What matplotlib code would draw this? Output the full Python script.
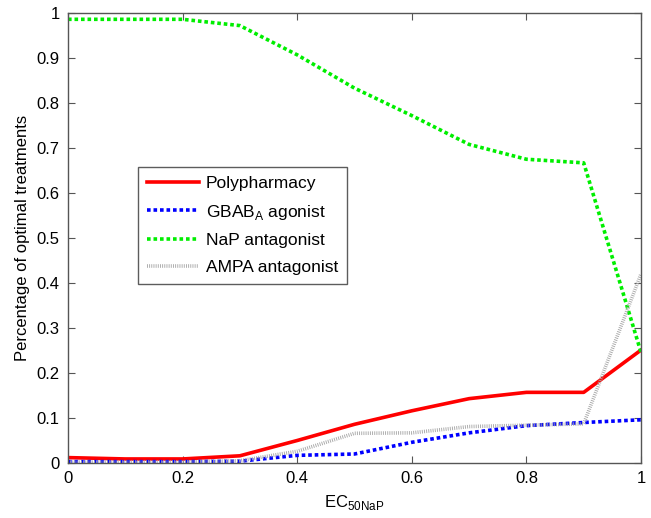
import matplotlib
matplotlib.use("Agg")
import matplotlib.pyplot as plt

plt.rcParams['font.family'] = ['Liberation Sans', 'DejaVu Sans']

ec50 = [0.0, 0.1, 0.2, 0.3, 0.4, 0.5, 0.6, 0.7, 0.8, 0.9, 1.0]
polypharmacy = [0.012, 0.009, 0.009, 0.016, 0.050, 0.086, 0.116, 0.143, 0.157, 0.157, 0.251]
gabab_agonist = [0.003, 0.003, 0.003, 0.004, 0.017, 0.020, 0.046, 0.067, 0.083, 0.090, 0.096]
nap_antagonist = [0.986, 0.986, 0.986, 0.972, 0.907, 0.833, 0.772, 0.708, 0.675, 0.667, 0.246]
ampa_antagonist = [0.002, 0.002, 0.002, 0.005, 0.026, 0.066, 0.067, 0.081, 0.084, 0.087, 0.42]

fig = plt.figure(figsize=(6.51, 5.18), dpi=100)
ax = fig.add_axes([68 / 651, 55 / 518, 573 / 651, 450 / 518])

ax.plot(ec50, polypharmacy, color='#ff0000', lw=2.6, label='Polypharmacy')
ax.plot(ec50, gabab_agonist, color='#0000ff', lw=2.6, linestyle=(0, (1, 0.8)),
        label='GBAB$_\\mathregular{A}$ agonist')
ax.plot(ec50, nap_antagonist, color='#00ee00', lw=2.6, linestyle=(0, (1, 0.8)),
        label='NaP antagonist')
ax.plot(ec50, ampa_antagonist, color='#a8a8a8', lw=2.6, linestyle=(0, (0.25, 0.35)),
        label='AMPA antagonist')

ax.set_xlim(0, 1)
ax.set_ylim(0, 1)
ax.set_xticks([0, 0.2, 0.4, 0.6, 0.8, 1])
ax.set_xticklabels(['0', '0.2', '0.4', '0.6', '0.8', '1'])
ax.set_yticks([0, 0.1, 0.2, 0.3, 0.4, 0.5, 0.6, 0.7, 0.8, 0.9, 1])
ax.set_yticklabels(['0', '0.1', '0.2', '0.3', '0.4', '0.5', '0.6', '0.7', '0.8', '0.9', '1'])
ax.tick_params(direction='in', top=True, right=True, labelsize=12, length=5,
               color='#555555', pad=6)
for s in ax.spines.values():
    s.set_color('#555555')
    s.set_linewidth(1.0)

ax.set_xlabel('EC$_\\mathregular{50NaP}$', fontsize=12, labelpad=5)
ax.set_ylabel('Percentage of optimal treatments', fontsize=12, labelpad=5)

leg = ax.legend(loc='upper left', bbox_to_anchor=(0.122, 0.658), fontsize=12.5,
                frameon=True, fancybox=False, edgecolor='#333333', handlelength=3.0,
                borderpad=0.5, labelspacing=0.68, handletextpad=0.4, borderaxespad=0)
leg.get_frame().set_linewidth(1.0)

fig.savefig('out.png', dpi=100)
